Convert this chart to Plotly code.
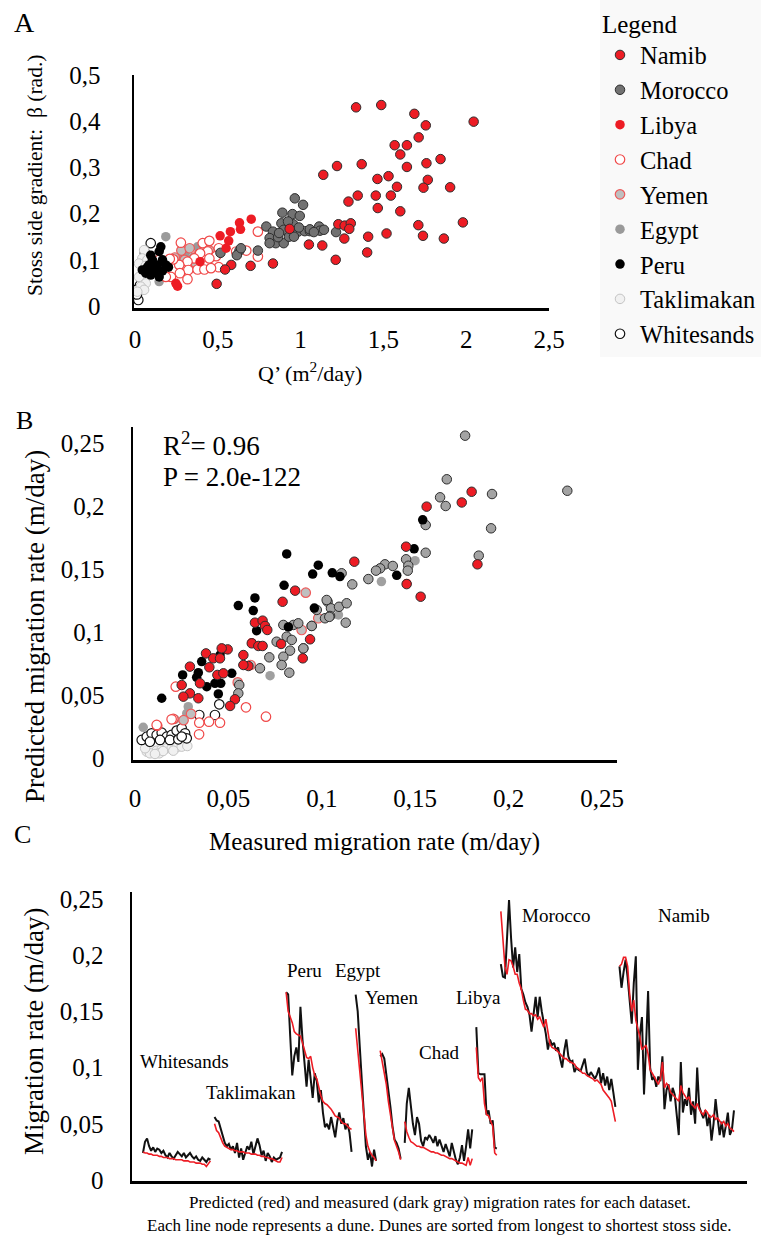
import plotly.graph_objects as go

SERIF = "Liberation Serif, 'Times New Roman', Times, serif"
W, H = 774, 1235
RED = "#ED1C24"

# ---------------- Panel A : Q' (m2/day) vs stoss side gradient (rad) ----------------
A_NAMIB_X = [1.335, 1.487, 1.687, 1.756, 2.045, 1.713, 1.568, 1.642, 1.602, 1.220, 1.369, 1.137, 1.760, 1.845,
             1.642, 1.464, 1.531, 1.768, 1.582, 1.742, 1.903, 1.345, 1.454, 1.545, 1.289, 1.466, 1.602, 1.228,
             1.266, 1.303, 1.294, 1.711, 1.980, 1.519, 1.408, 1.264, 1.739, 1.865, 1.050, 1.131, 1.402, 1.212,
             0.934, 0.833, 0.698, 0.581, 0.544, 0.493]
A_NAMIB_Y = [0.430, 0.435, 0.416, 0.391, 0.399, 0.365, 0.348, 0.348, 0.328, 0.303, 0.307, 0.284, 0.309, 0.318,
             0.301, 0.275, 0.281, 0.273, 0.258, 0.256, 0.257, 0.239, 0.239, 0.239, 0.226, 0.212, 0.205, 0.177,
             0.174, 0.179, 0.167, 0.175, 0.181, 0.157, 0.150, 0.146, 0.152, 0.146, 0.133, 0.131, 0.116, 0.100,
             0.167, 0.092, 0.087, 0.089, 0.079, 0.048]
A_MOROCCO_X = [0.965, 1.015, 0.890, 0.951, 0.995, 0.793, 0.833, 0.884, 0.898, 0.955, 0.985, 1.025, 1.056, 1.112,
               1.117, 0.813, 0.850, 0.898, 0.813, 0.864, 0.742, 0.631, 0.615, 0.516, 1.056, 1.141, 1.214, 0.924,
               0.930, 0.870, 0.960, 1.080, 0.640, 0.990]
A_MOROCCO_Y = [0.233, 0.219, 0.202, 0.199, 0.195, 0.172, 0.161, 0.179, 0.165, 0.177, 0.161, 0.162, 0.162, 0.172,
               0.163, 0.147, 0.136, 0.136, 0.136, 0.149, 0.120, 0.120, 0.110, 0.115, 0.166, 0.165, 0.160, 0.183,
               0.150, 0.158, 0.150, 0.160, 0.125, 0.170]
A_LIBYA_X = [0.702, 0.631, 0.637, 0.576, 0.514, 0.566, 0.550, 0.393, 0.257, 0.247]
A_LIBYA_Y = [0.188, 0.180, 0.166, 0.161, 0.152, 0.141, 0.125, 0.096, 0.043, 0.049]
A_CHAD_X = [0.277, 0.409, 0.449, 0.742, 0.742, 0.672, 0.506, 0.439, 0.393, 0.490, 0.449, 0.358, 0.317, 0.267,
            0.231, 0.146, 0.210, 0.322, 0.378, 0.419, 0.506, 0.271, 0.217, 0.186, 0.317, 0.611, 0.459]
A_CHAD_Y = [0.137, 0.136, 0.141, 0.161, 0.107, 0.120, 0.125, 0.118, 0.114, 0.108, 0.103, 0.103, 0.096, 0.089,
            0.101, 0.100, 0.102, 0.078, 0.079, 0.079, 0.084, 0.071, 0.063, 0.063, 0.058, 0.118, 0.082]
A_YEMEN_X = [0.280, 0.330, 0.380, 0.420, 0.300, 0.360, 0.240, 0.450]
A_YEMEN_Y = [0.120, 0.125, 0.110, 0.130, 0.100, 0.095, 0.105, 0.120]
A_EGYPT_X = [0.186, 0.378, 0.419, 0.307, 0.297, 0.142, 0.146, 0.290, 0.400, 0.350]
A_EGYPT_Y = [0.150, 0.128, 0.125, 0.118, 0.110, 0.074, 0.053, 0.100, 0.120, 0.105]
A_PERU_X = [0.156, 0.146, 0.095, 0.105, 0.166, 0.085, 0.135, 0.186, 0.044, 0.075, 0.115, 0.166, 0.202, 0.095,
            0.146, 0.065]
A_PERU_Y = [0.128, 0.118, 0.110, 0.100, 0.100, 0.089, 0.089, 0.089, 0.078, 0.084, 0.076, 0.076, 0.084, 0.067,
            0.063, 0.071]
A_TAKLIMAKAN_X = [0.055, 0.044, 0.024, 0.075, 0.055, 0.024, 0.065, 0.035, 0.055, 0.014, 0.085, 0.065]
A_TAKLIMAKAN_Y = [0.121, 0.103, 0.092, 0.100, 0.056, 0.063, 0.049, 0.042, 0.035, 0.031, 0.071, 0.087]
A_WHITESANDS_X = [0.095, 0.020, 0.030, 0.012, 0.040, 0.008, 0.060]
A_WHITESANDS_Y = [0.136, 0.013, 0.045, 0.025, 0.060, 0.035, 0.115]

# ---------------- Panel B : measured vs predicted migration rate (m/day) ----------------
B_NAMIB_X = [0.0857, 0.0790, 0.0642, 0.0683, 0.0696, 0.0708, 0.0625, 0.0660, 0.0683, 0.0580, 0.0496, 0.0464,
             0.0380, 0.0419, 0.0455, 0.0294, 0.0398, 0.0441, 0.0473, 0.0250, 0.0348, 0.0294, 0.0339, 0.0259,
             0.0535, 0.0509, 0.0607, 0.0937, 0.0898, 0.0782, 0.1174, 0.1561, 0.1451, 0.1454, 0.1529, 0.1749,
             0.1802, 0.1833, 0.0580]
B_NAMIB_Y = [0.1328, 0.1240, 0.1074, 0.1090, 0.1048, 0.1016, 0.0910, 0.0889, 0.0889, 0.0817, 0.0862, 0.0870,
             0.0830, 0.0791, 0.0791, 0.0725, 0.0720, 0.0659, 0.0672, 0.0579, 0.0593, 0.0513, 0.0474, 0.0487,
             0.0466, 0.0413, 0.0730, 0.0942, 0.0791, 0.0905, 0.1558, 0.1995, 0.1677, 0.1380, 0.1280, 0.2028,
             0.2113, 0.1537, 0.0738]
B_MOROCCO_X = [0.1767, 0.1669, 0.1633, 0.1663, 0.1911, 0.2314, 0.1906, 0.1556, 0.1840, 0.1556, 0.1451, 0.1463,
               0.1460, 0.1338, 0.1380, 0.1312, 0.1290, 0.1249, 0.1163, 0.1106, 0.1031, 0.1049, 0.1092, 0.1133,
               0.1128, 0.1044, 0.1017, 0.0946, 0.0901, 0.0794, 0.0848, 0.0874, 0.0946, 0.1026, 0.0812, 0.0839,
               0.0758, 0.0830, 0.0901, 0.0719, 0.0794, 0.0785, 0.0826, 0.0669, 0.0558, 0.0553, 0.0973, 0.1040]
B_MOROCCO_Y = [0.2558, 0.2212, 0.2069, 0.2000, 0.2095, 0.2121, 0.1823, 0.1849, 0.1606, 0.1629, 0.1577, 0.1526,
               0.1487, 0.1537, 0.1524, 0.1505, 0.1487, 0.1420, 0.1378, 0.1466, 0.1240, 0.1188, 0.1200, 0.1228,
               0.1074, 0.1127, 0.1109, 0.1048, 0.0870, 0.1056, 0.1056, 0.1069, 0.1048, 0.1254, 0.0963, 0.0937,
               0.0923, 0.0852, 0.0870, 0.0799, 0.0804, 0.0738, 0.0677, 0.0712, 0.0579, 0.0513, 0.1175, 0.1120]
B_LIBYA_X = [0.0625, 0.0470, 0.1455]
B_LIBYA_Y = [0.0915, 0.0860, 0.1385]
B_CHAD_X = [0.0218, 0.0119, 0.0205, 0.0344, 0.0396, 0.0455, 0.0343, 0.0594, 0.0701, 0.0196, 0.0116]
B_CHAD_Y = [0.0566, 0.0256, 0.0310, 0.0280, 0.0288, 0.0280, 0.0188, 0.0402, 0.0328, 0.0307, 0.0262]
B_YEMEN_X = [0.0914, 0.0981, 0.0892, 0.0619, 0.0300, 0.0260, 0.0550]
B_YEMEN_Y = [0.1312, 0.1109, 0.1016, 0.0738, 0.0350, 0.0300, 0.0600]
B_EGYPT_X = [0.1319, 0.1499, 0.1089, 0.0723, 0.0044, 0.0553, 0.0277, 0.0285, 0.0214]
B_EGYPT_Y = [0.1400, 0.1566, 0.1135, 0.0653, 0.0243, 0.0587, 0.0354, 0.0407, 0.0307]
B_PERU_X = [0.0812, 0.0981, 0.0951, 0.0798, 0.0642, 0.0553, 0.0633, 0.0651, 0.0960, 0.0821, 0.0357, 0.0339,
            0.0255, 0.0455, 0.0518, 0.0384, 0.0428, 0.0459, 0.0446, 0.0143, 0.0330, 0.1056, 0.1097, 0.1401,
            0.1540, 0.1494]
B_PERU_Y = [0.1620, 0.1530, 0.1460, 0.1370, 0.1270, 0.1210, 0.1170, 0.1010, 0.1190, 0.1040, 0.0765, 0.0677,
            0.0659, 0.0817, 0.0672, 0.0566, 0.0593, 0.0593, 0.0508, 0.0474, 0.0640, 0.1470, 0.1440, 0.1450,
            0.1890, 0.1660]
B_TAKLIMAKAN_X = [0.0063, 0.0089, 0.0116, 0.0143, 0.0170, 0.0196, 0.0223, 0.0250, 0.0280, 0.0080, 0.0054,
                  0.0130, 0.0205, 0.0150, 0.0107]
B_TAKLIMAKAN_Y = [0.0050, 0.0063, 0.0058, 0.0069, 0.0077, 0.0077, 0.0085, 0.0090, 0.0095, 0.0037, 0.0077,
                  0.0037, 0.0058, 0.0055, 0.0032]
B_WHITESANDS_X = [0.0036, 0.0063, 0.0089, 0.0116, 0.0143, 0.0170, 0.0196, 0.0223, 0.0250, 0.0268, 0.0277,
                  0.0080, 0.0134, 0.0187, 0.0232, 0.0250, 0.0451, 0.0428, 0.0344]
B_WHITESANDS_Y = [0.0143, 0.0169, 0.0196, 0.0183, 0.0201, 0.0169, 0.0183, 0.0217, 0.0236, 0.0196, 0.0156,
                  0.0129, 0.0143, 0.0143, 0.0148, 0.0170, 0.0426, 0.0341, 0.0341]
B_R2_TEXT = "R<sup>2</sup>= 0.96"
B_P_TEXT = "P = 2.0e-122"

# ---------------- Panel C : migration rate per dune, per dataset ----------------
C_DATASETS = ["Whitesands", "Taklimakan", "Peru", "Egypt", "Yemen", "Chad", "Libya", "Morocco", "Namib"]
C_MEAS_WHITESANDS = [0.024, 0.034, 0.037, 0.030, 0.026, 0.029, 0.025, 0.028, 0.027, 0.024, 0.026, 0.022, 0.020,
                     0.024, 0.021, 0.019, 0.022, 0.025, 0.023, 0.021, 0.024, 0.020, 0.022, 0.024, 0.021, 0.019,
                     0.021, 0.018, 0.017, 0.020, 0.018, 0.016, 0.019, 0.018]
C_PRED_WHITESANDS = [0.025, 0.024, 0.024, 0.023, 0.023, 0.022, 0.022, 0.022, 0.021, 0.021, 0.020, 0.020, 0.020,
                     0.019, 0.019, 0.019, 0.018, 0.018, 0.018, 0.018, 0.017, 0.017, 0.017, 0.016, 0.016, 0.016,
                     0.015, 0.015, 0.015, 0.014, 0.014, 0.012, 0.015, 0.017]
C_MEAS_TAKLIMAKAN = [0.056, 0.053, 0.052, 0.045, 0.038, 0.033, 0.030, 0.032, 0.027, 0.030, 0.024, 0.033, 0.020,
                     0.028, 0.018, 0.025, 0.030, 0.027, 0.034, 0.023, 0.030, 0.037, 0.031, 0.022, 0.026, 0.017,
                     0.024, 0.021, 0.016, 0.020, 0.018, 0.019, 0.020, 0.025]
C_PRED_TAKLIMAKAN = [0.050, 0.044, 0.042, 0.037, 0.033, 0.030, 0.029, 0.028, 0.027, 0.027, 0.026, 0.026, 0.025,
                     0.025, 0.025, 0.024, 0.024, 0.024, 0.023, 0.023, 0.023, 0.022, 0.022, 0.021, 0.021, 0.020,
                     0.020, 0.019, 0.019, 0.018, 0.017, 0.016, 0.016, 0.020]
C_MEAS_PERU = [0.167, 0.165, 0.128, 0.093, 0.110, 0.118, 0.105, 0.154, 0.125, 0.100, 0.083, 0.107, 0.090, 0.073,
               0.095, 0.088, 0.069, 0.080, 0.060, 0.047, 0.050, 0.045, 0.056, 0.048, 0.038, 0.052, 0.060, 0.050,
               0.055, 0.045, 0.050, 0.042, 0.025]
C_PRED_PERU = [0.167, 0.150, 0.145, 0.140, 0.132, 0.130, 0.129, 0.128, 0.122, 0.115, 0.109, 0.108, 0.110, 0.100,
               0.093, 0.090, 0.082, 0.075, 0.070, 0.068, 0.067, 0.065, 0.063, 0.060, 0.057, 0.056, 0.055, 0.052,
               0.050, 0.050, 0.048, 0.046, 0.045]
C_MEAS_EGYPT = [0.165, 0.150, 0.119, 0.085, 0.059, 0.030, 0.018, 0.025, 0.012, 0.027, 0.017]
C_PRED_EGYPT = [0.135, 0.115, 0.095, 0.075, 0.058, 0.040, 0.030, 0.025, 0.022, 0.020, 0.017]
C_MEAS_YEMEN = [0.110, 0.112, 0.108, 0.095, 0.080, 0.065, 0.048, 0.036, 0.033, 0.028, 0.019]
C_PRED_YEMEN = [0.115, 0.105, 0.098, 0.085, 0.070, 0.058, 0.045, 0.035, 0.030, 0.025, 0.018]
C_MEAS_CHAD = [0.033, 0.068, 0.082, 0.065, 0.050, 0.040, 0.056, 0.050, 0.035, 0.030, 0.038, 0.036, 0.040, 0.037,
               0.033, 0.039, 0.030, 0.036, 0.030, 0.025, 0.032, 0.026, 0.021, 0.033, 0.026, 0.018, 0.014, 0.020,
               0.031, 0.017, 0.030, 0.045, 0.028, 0.045]
C_PRED_CHAD = [0.052, 0.043, 0.038, 0.034, 0.033, 0.031, 0.030, 0.030, 0.029, 0.029, 0.028, 0.027, 0.026, 0.025,
               0.025, 0.024, 0.024, 0.023, 0.022, 0.022, 0.021, 0.020, 0.019, 0.019, 0.018, 0.017, 0.016, 0.015,
               0.015, 0.014, 0.013, 0.020, 0.013, 0.019]
C_MEAS_LIBYA = [0.136, 0.095, 0.094, 0.094, 0.094, 0.058, 0.062, 0.050, 0.053, 0.029, 0.028]
C_PRED_LIBYA = [0.118, 0.091, 0.088, 0.091, 0.068, 0.058, 0.057, 0.052, 0.048, 0.024, 0.022]
C_MEAS_MOROCCO = [0.192, 0.181, 0.180, 0.215, 0.249, 0.215, 0.189, 0.207, 0.185, 0.201, 0.170, 0.165, 0.158, 0.154,
                  0.147, 0.132, 0.150, 0.163, 0.145, 0.163, 0.150, 0.140, 0.130, 0.116, 0.125, 0.120, 0.122, 0.115,
                  0.118, 0.108, 0.100, 0.115, 0.125, 0.110, 0.105, 0.106, 0.096, 0.100, 0.098, 0.097, 0.103, 0.108,
                  0.096, 0.092, 0.096, 0.093, 0.090, 0.094, 0.100, 0.086, 0.095, 0.084, 0.092, 0.080, 0.090, 0.078,
                  0.065]
C_PRED_MOROCCO = [0.239, 0.212, 0.190, 0.183, 0.196, 0.195, 0.190, 0.183, 0.183, 0.175, 0.170, 0.160, 0.152, 0.151,
                  0.148, 0.148, 0.146, 0.147, 0.143, 0.145, 0.140, 0.136, 0.143, 0.130, 0.121, 0.118, 0.117, 0.116,
                  0.114, 0.112, 0.110, 0.108, 0.108, 0.106, 0.105, 0.104, 0.103, 0.100, 0.099, 0.097, 0.095, 0.095,
                  0.093, 0.092, 0.091, 0.090, 0.088, 0.089, 0.087, 0.085, 0.080, 0.078, 0.075, 0.073, 0.070, 0.062,
                  0.052]
C_MEAS_NAMIB = [0.190, 0.171, 0.185, 0.196, 0.180, 0.160, 0.139, 0.175, 0.199, 0.098, 0.130, 0.145, 0.076, 0.120,
                0.168, 0.100, 0.089, 0.092, 0.083, 0.092, 0.088, 0.110, 0.063, 0.080, 0.085, 0.070, 0.082, 0.076,
                0.055, 0.040, 0.105, 0.060, 0.072, 0.066, 0.082, 0.058, 0.070, 0.050, 0.100, 0.065, 0.060, 0.055,
                0.062, 0.048, 0.058, 0.035, 0.050, 0.072, 0.055, 0.040, 0.052, 0.038, 0.048, 0.060, 0.040, 0.045,
                0.062]
C_PRED_NAMIB = [0.190, 0.192, 0.198, 0.198, 0.190, 0.165, 0.150, 0.160, 0.142, 0.135, 0.127, 0.116, 0.118, 0.120,
                0.112, 0.098, 0.095, 0.092, 0.088, 0.085, 0.090, 0.105, 0.082, 0.086, 0.084, 0.078, 0.076, 0.074,
                0.072, 0.070, 0.084, 0.078, 0.075, 0.072, 0.074, 0.068, 0.066, 0.064, 0.068, 0.063, 0.060, 0.058,
                0.062, 0.060, 0.056, 0.056, 0.058, 0.054, 0.055, 0.052, 0.050, 0.052, 0.048, 0.050, 0.046, 0.045,
                0.043]
C_MEASURED = [C_MEAS_WHITESANDS, C_MEAS_TAKLIMAKAN, C_MEAS_PERU, C_MEAS_EGYPT, C_MEAS_YEMEN, C_MEAS_CHAD,
              C_MEAS_LIBYA, C_MEAS_MOROCCO, C_MEAS_NAMIB]
C_PREDICTED = [C_PRED_WHITESANDS, C_PRED_TAKLIMAKAN, C_PRED_PERU, C_PRED_EGYPT, C_PRED_YEMEN, C_PRED_CHAD,
               C_PRED_LIBYA, C_PRED_MOROCCO, C_PRED_NAMIB]

# tick labels (decimal comma)
A_XTICKS = [0, 0.5, 1, 1.5, 2, 2.5]
A_XTEXT = ["0", "0,5", "1", "1,5", "2", "2,5"]
A_YTICKS = [0, 0.1, 0.2, 0.3, 0.4, 0.5]
A_YTEXT = ["0", "0,1", "0,2", "0,3", "0,4", "0,5"]
B_TICKS = [0, 0.05, 0.1, 0.15, 0.2, 0.25]
B_TEXT = ["0", "0,05", "0,1", "0,15", "0,2", "0,25"]

# ---------------- styles ----------------
STYLE_A = {
    "Namib": dict(color=RED, line=dict(color="#2e2e2e", width=1)),
    "Morocco": dict(color="#727272", line=dict(color="#2e2e2e", width=1)),
    "Libya": dict(color=RED, line=dict(color=RED, width=0)),
    "Chad": dict(color="white", line=dict(color="#F04848", width=1.2)),
    "Yemen": dict(color="#bfbfbf", line=dict(color="#EE5A5A", width=1.2)),
    "Egypt": dict(color="#9a9a9a", line=dict(color="#9a9a9a", width=0)),
    "Peru": dict(color="black", line=dict(color="black", width=0)),
    "Taklimakan": dict(color="#f1f1f1", line=dict(color="#c4c4c4", width=1)),
    "Whitesands": dict(color="white", line=dict(color="#111111", width=1.2)),
}
STYLE_B = dict(STYLE_A)
STYLE_B["Morocco"] = dict(color="#a3a3a3", line=dict(color="#2e2e2e", width=1))
STYLE_B["Egypt"] = dict(color="#a0a0a0", line=dict(color="#a0a0a0", width=0))

LEGEND_ORDER = ["Namib", "Morocco", "Libya", "Chad", "Yemen", "Egypt", "Peru", "Taklimakan", "Whitesands"]
A_DATA = {
    "Whitesands": (A_WHITESANDS_X, A_WHITESANDS_Y), "Taklimakan": (A_TAKLIMAKAN_X, A_TAKLIMAKAN_Y),
    "Egypt": (A_EGYPT_X, A_EGYPT_Y), "Yemen": (A_YEMEN_X, A_YEMEN_Y), "Chad": (A_CHAD_X, A_CHAD_Y),
    "Peru": (A_PERU_X, A_PERU_Y), "Morocco": (A_MOROCCO_X, A_MOROCCO_Y), "Libya": (A_LIBYA_X, A_LIBYA_Y),
    "Namib": (A_NAMIB_X, A_NAMIB_Y),
}
B_DATA = {
    "Taklimakan": (B_TAKLIMAKAN_X, B_TAKLIMAKAN_Y), "Whitesands": (B_WHITESANDS_X, B_WHITESANDS_Y),
    "Egypt": (B_EGYPT_X, B_EGYPT_Y), "Chad": (B_CHAD_X, B_CHAD_Y), "Yemen": (B_YEMEN_X, B_YEMEN_Y),
    "Morocco": (B_MOROCCO_X, B_MOROCCO_Y), "Libya": (B_LIBYA_X, B_LIBYA_Y), "Peru": (B_PERU_X, B_PERU_Y),
    "Namib": (B_NAMIB_X, B_NAMIB_Y),
}

MSIZE = 9.5
fig = go.Figure()
for name, (xs, ys) in A_DATA.items():
    fig.add_trace(go.Scatter(x=xs, y=ys, mode="markers", name=name, xaxis="x", yaxis="y",
                             legendrank=LEGEND_ORDER.index(name) + 1,
                             marker=dict(size=MSIZE, **STYLE_A[name])))
for name, (xs, ys) in B_DATA.items():
    fig.add_trace(go.Scatter(x=xs, y=ys, mode="markers", name=name, xaxis="x2", yaxis="y2",
                             showlegend=False, marker=dict(size=MSIZE, **STYLE_B[name])))

# Panel C lines, one gap slot between datasets
cx, cm, cp = [], [], []
start = 0
for meas, pred in zip(C_MEASURED, C_PREDICTED):
    n = len(meas)
    cx += list(range(start, start + n)) + [start + n]
    cm += meas + [None]
    cp += pred + [None]
    start += n + 1
fig.add_trace(go.Scatter(x=cx, y=cm, mode="lines", xaxis="x3", yaxis="y3", showlegend=False,
                         line=dict(color="#111111", width=2), connectgaps=False))
fig.add_trace(go.Scatter(x=cx, y=cp, mode="lines", xaxis="x3", yaxis="y3", showlegend=False,
                         line=dict(color=RED, width=1.6), connectgaps=False))
n_slots = start - 1


def fx(px):
    return px / W


def fy(py):
    return 1 - py / H


TICKFONT = dict(family=SERIF, size=25, color="black")
base = dict(showline=True, linecolor="black", linewidth=2.5, showgrid=False, zeroline=False,
            ticks="", tickfont=TICKFONT, tickmode="array", fixedrange=True, automargin=False)

fig.update_layout(
    template="none",
    width=W, height=H, autosize=False,
    margin=dict(l=0, r=0, t=0, b=0, pad=0, autoexpand=False),
    paper_bgcolor="white", plot_bgcolor="white",
    font=dict(family=SERIF, color="black"),
    xaxis=dict(base, domain=[fx(134), fx(549)], range=[-0.006, 2.5], anchor="y",
               tickvals=A_XTICKS, ticktext=A_XTEXT, ticklabelstandoff=7),
    yaxis=dict(base, domain=[fy(308), fy(75)], range=[-0.0043, 0.5], anchor="x",
               tickvals=A_YTICKS, ticktext=A_YTEXT, ticklabelstandoff=26),
    xaxis2=dict(base, domain=[fx(133), fx(617)], range=[-0.00107, 0.258], anchor="y2",
                tickvals=B_TICKS, ticktext=B_TEXT, ticklabelstandoff=14),
    yaxis2=dict(base, domain=[fy(760), fy(427)], range=[-0.0016, 0.2627], anchor="x2",
                tickvals=B_TICKS, ticktext=B_TEXT, ticklabelstandoff=21),
    xaxis3=dict(base, domain=[fx(132), fx(747)], range=[-5.36, n_slots + 5.36], anchor="y3",
                showticklabels=False),
    yaxis3=dict(base, domain=[fy(1181), fy(892)], range=[-0.0009, 0.2562], anchor="x3",
                tickvals=B_TICKS, ticktext=B_TEXT, ticklabelstandoff=21),
    legend=dict(x=fx(600), y=1, xanchor="left", yanchor="top", bgcolor="#f9f9f9",
                font=dict(family=SERIF, size=24.5, color="black"),
                title=dict(text="Legend", font=dict(family=SERIF, size=25, color="black")),
                tracegroupgap=0, itemwidth=30, borderwidth=0),
)


def ann(text, px, py, size, angle=0, xanchor="center"):
    fig.add_annotation(text=text, x=fx(px), y=fy(py), xref="paper", yref="paper", showarrow=False,
                       xanchor=xanchor, yanchor="middle", textangle=angle,
                       font=dict(family=SERIF, size=size, color="black"))


ann("A", 24, 22, 28)
ann("B", 24, 420, 26)
ann("C", 22, 834, 26)
ann("Stoss side gradient:  β (rad.)", 35, 176, 21.5, angle=-90)
ann("Q’ (m<sup>2</sup>/day)", 310, 372, 22)
ann(B_R2_TEXT, 161, 444, 27, xanchor="left")
ann(B_P_TEXT, 161, 477, 27, xanchor="left")
ann("Predicted migration rate (m/day)", 35, 627, 27, angle=-90)
ann("Measured migration rate (m/day)", 374, 842, 25)
ann("Migration rate (m/day)", 34, 1032, 27, angle=-90)
C_LABEL_POS = {"Whitesands": (184, 1061), "Taklimakan": (251, 1092), "Peru": (304, 970), "Egypt": (358, 970),
               "Yemen": (391, 997), "Chad": (439, 1052), "Libya": (478, 997), "Morocco": (556, 915),
               "Namib": (684, 915)}
for name in C_DATASETS:
    px, py = C_LABEL_POS[name]
    ann(name, px, py, 19)
ann("Predicted (red) and measured (dark gray) migration rates for each dataset.", 440, 1202, 17)
ann("Each line node represents a dune. Dunes are sorted from longest to shortest stoss side.", 439, 1225, 17)

fig.write_html("out.html", config={"displayModeBar": False, "staticPlot": True},
               post_script="document.body.style.margin='0px';document.body.style.overflow='hidden';")
